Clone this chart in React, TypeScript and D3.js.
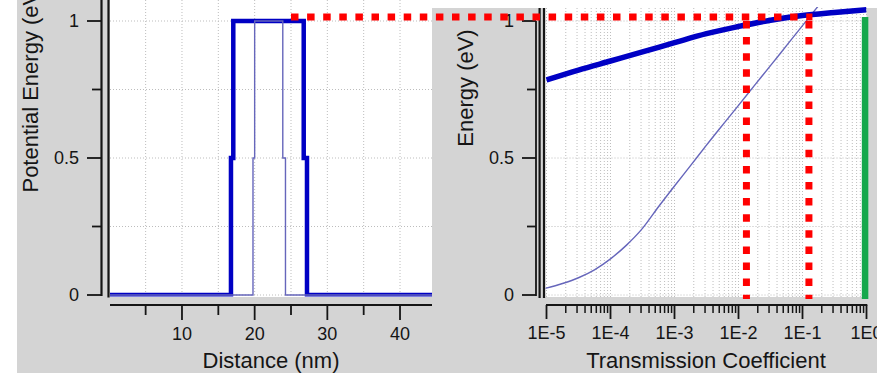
import React from 'react';
import * as d3 from 'd3';

const W = 877;
const H = 373;

// Potential profiles: step vertices (distance in nm, potential in eV)
const wideDistance = [0, 16.74, 17.06, 26.75, 27.2, 44.4];
const widePotential = [0, 0.5, 1, 0.5, 0, 0];
const narrowDistance = [0, 19.77, 20.0, 23.87, 24.24, 44.4];
const narrowPotential = [0, 0.5, 1, 0.5, 0, 0];

// Transmission coefficient vs energy for each barrier
const wideT = [1e-5, 3.16e-5, 1e-4, 3.16e-4, 1e-3, 3.16e-3, 1e-2, 3.16e-2, 1e-1, 3.16e-1, 1];
const wideE = [0.785, 0.821, 0.854, 0.887, 0.921, 0.954, 0.98, 1.003, 1.02, 1.031, 1.041];
const narrowT = [9.5e-6, 1.78e-5, 3.16e-5, 5.62e-5, 1e-4, 1.78e-4, 3.16e-4, 5.62e-4, 1e-3, 1.78e-3, 3.16e-3, 5.62e-3, 1e-2, 1.78e-2, 3.16e-2, 5.62e-2, 1e-1, 1.78e-1];
const narrowE = [0.024, 0.042, 0.063, 0.092, 0.132, 0.182, 0.243, 0.322, 0.398, 0.472, 0.547, 0.62, 0.692, 0.765, 0.837, 0.91, 0.983, 1.056];

const refEnergy = 1.015;
const refStartDistance = 25;
const markerT = [0.0133, 0.126];
const markerTopE = 1.0;
const markerBottomE = -0.015;
// Classical transmission above the barrier
const classicalT = 0.95;

// Axis ticks
const distanceMajor = [10, 20, 30, 40];
const distanceMinor = [5, 15, 25, 35];
const energyMajor = [0, 0.5, 1];
const energyMinor = [0.25, 0.75];
const energyGrid = [0, 0.25, 0.5, 0.75, 1];
const decades = [1e-5, 1e-4, 1e-3, 1e-2, 1e-1, 1];

const FONT = "'Liberation Sans', Arial, sans-serif";
const INK = '#151515';
const BG = '#d4d4d4';
const GRID = '#bdbdbd';
const THICK = '#0000c4';
const THIN = '#6666bb';
const RED = '#ff0000';
const GREEN = '#16a84c';

export default function App() {
  const xDist = d3.scaleLinear().domain([0, 44.4]).range([109.3, 432]);
  const yE = d3.scaleLinear().domain([0, 1]).range([295, 21]);
  const xT = d3.scaleLog().domain([1e-5, 1]).range([546.5, 866.5]);

  const logMinor: number[] = [];
  for (let k = -5; k < 0; k++) {
    for (let m = 2; m <= 9; m++) logMinor.push(m * Math.pow(10, k));
  }

  const stepLine = d3
    .line<[number, number]>()
    .x((d) => xDist(d[0]))
    .y((d) => yE(d[1]))
    .curve(d3.curveStepAfter);
  const tLine = d3
    .line<[number, number]>()
    .x((d) => xT(d[0]))
    .y((d) => yE(d[1]))
    .curve(d3.curveMonotoneX);

  const wideProfile = wideDistance.map((d, i) => [d, widePotential[i]] as [number, number]);
  const narrowProfile = narrowDistance.map((d, i) => [d, narrowPotential[i]] as [number, number]);
  const wideCurve = wideT.map((t, i) => [t, wideE[i]] as [number, number]);
  const narrowCurve = narrowT.map((t, i) => [t, narrowE[i]] as [number, number]);

  const L = { x0: 110, x1: 432, y0: 0, y1: 297 };
  const R = { x0: 545.5, x1: 866.5, y0: 7, y1: 297 };
  const axisY = 305;
  const redDash = '7.5 8.6';

  return (
    <svg
      width={W}
      height={H}
      style={{ position: 'absolute', left: 0, top: 0, display: 'block' }}
      fontFamily={FONT}
    >
      <defs>
        <clipPath id="clipL">
          <rect x={L.x0} y={L.y0} width={L.x1 - L.x0} height={296.5 - L.y0} />
        </clipPath>
        <clipPath id="clipR">
          <rect x={R.x0} y={R.y0} width={R.x1 - R.x0} height={R.y1 - R.y0} />
        </clipPath>
      </defs>

      <rect width={W} height={H} fill={BG} />
      <rect x={0} y={0} width={17} height={H} fill="#fff" />
      <rect x={432} y={0} width={W - 432} height={8} fill="#fff" />

      {/* Left panel: potential energy vs distance */}
      <rect x={L.x0} y={0} width={L.x1 - L.x0} height={L.y1} fill="#fff" />
      <g stroke={GRID} strokeWidth={1} strokeDasharray="1 2">
        {[...distanceMinor, ...distanceMajor].map((d) => (
          <line key={'gv' + d} x1={xDist(d)} x2={xDist(d)} y1={0} y2={L.y1} />
        ))}
        {energyGrid.map((e) => (
          <line key={'gh' + e} x1={L.x0} x2={L.x1} y1={yE(e)} y2={yE(e)} />
        ))}
      </g>
      <g clipPath="url(#clipL)" fill="none">
        <path d={stepLine(wideProfile) || ''} stroke={THICK} strokeWidth={4.5} />
        <path d={stepLine(narrowProfile) || ''} stroke={THIN} strokeWidth={1.4} />
      </g>

      {/* Left panel axes */}
      <g stroke={INK} fill="none">
        <line x1={101.5} x2={101.5} y1={0} y2={yE(0) + 0.9} strokeWidth={2.2} />
        <line x1={108.5} x2={108.5} y1={0} y2={297.5} strokeWidth={2.2} />
        {energyMajor.map((e) => (
          <line key={'lt' + e} x1={87} x2={101.5} y1={yE(e)} y2={yE(e)} strokeWidth={1.8} />
        ))}
        {energyMinor.map((e) => (
          <line key={'lm' + e} x1={92} x2={101.5} y1={yE(e)} y2={yE(e)} strokeWidth={1.8} />
        ))}
        <line x1={L.x0} x2={L.x1} y1={axisY} y2={axisY} strokeWidth={2} />
        {distanceMajor.map((d) => (
          <line key={'dt' + d} x1={xDist(d)} x2={xDist(d)} y1={axisY} y2={320} strokeWidth={1.8} />
        ))}
        {distanceMinor.map((d) => (
          <line key={'dm' + d} x1={xDist(d)} x2={xDist(d)} y1={axisY} y2={315} strokeWidth={1.8} />
        ))}
      </g>
      <g fill={INK} fontSize={18}>
        {energyMajor.map((e) => (
          <text key={'ll' + e} x={79} y={yE(e)} dy="0.36em" textAnchor="end">
            {d3.format('~g')(e)}
          </text>
        ))}
        {distanceMajor.map((d) => (
          <text key={'dl' + d} x={xDist(d)} y={340} textAnchor="middle">
            {d}
          </text>
        ))}
      </g>
      <text
        x={(L.x0 + L.x1) / 2}
        y={368}
        textAnchor="middle"
        fontSize={22}
        fill={INK}
      >
        Distance (nm)
      </text>
      <text
        transform="translate(38,88) rotate(-90)"
        textAnchor="middle"
        fontSize={22}
        fill={INK}
      >
        Potential Energy (eV)
      </text>

      {/* Right panel: energy vs transmission coefficient */}
      <rect x={R.x0} y={0} width={R.x1 - R.x0} height={R.y1} fill="#fff" />
      <g stroke={GRID} strokeWidth={1} strokeDasharray="1 2">
        {[...logMinor, ...decades].map((t, i) => (
          <line key={'rv' + i} x1={xT(t)} x2={xT(t)} y1={8} y2={R.y1} />
        ))}
        {energyGrid.map((e) => (
          <line key={'rh' + e} x1={R.x0} x2={R.x1} y1={yE(e)} y2={yE(e)} />
        ))}
      </g>
      <g clipPath="url(#clipR)" fill="none">
        <path d={tLine(narrowCurve) || ''} stroke={THIN} strokeWidth={1.4} />
        <path d={tLine(wideCurve) || ''} stroke={THICK} strokeWidth={5.5} />
      </g>
      <line
        x1={xT(classicalT)}
        x2={xT(classicalT)}
        y1={yE(refEnergy)}
        y2={yE(markerBottomE)}
        stroke={GREEN}
        strokeWidth={6.5}
      />

      {/* Right panel axes */}
      <g stroke={INK} fill="none">
        <line x1={536} x2={536} y1={yE(1)} y2={yE(0) + 0.9} strokeWidth={1.8} />
        <line x1={539.6} x2={539.6} y1={8} y2={298} strokeWidth={2.2} />
        <line x1={544} x2={544} y1={8} y2={298} strokeWidth={2.2} />
        {energyMajor.map((e) => (
          <line key={'rt' + e} x1={522} x2={536} y1={yE(e)} y2={yE(e)} strokeWidth={1.8} />
        ))}
        {energyMinor.map((e) => (
          <line key={'rm' + e} x1={527} x2={536} y1={yE(e)} y2={yE(e)} strokeWidth={1.8} />
        ))}
        <line x1={xT(1e-5) - 0.5} x2={xT(1) + 0.8} y1={axisY} y2={axisY} strokeWidth={2} />
        {decades.map((t) => (
          <line key={'xt' + t} x1={xT(t)} x2={xT(t)} y1={axisY} y2={319} strokeWidth={1.8} />
        ))}
        {logMinor.map((t, i) => (
          <line key={'xm' + i} x1={xT(t)} x2={xT(t)} y1={axisY} y2={313} strokeWidth={1.5} />
        ))}
      </g>
      <g fill={INK} fontSize={18}>
        {energyMajor.map((e) => (
          <text key={'rl' + e} x={514} y={yE(e)} dy="0.36em" textAnchor="end">
            {d3.format('~g')(e)}
          </text>
        ))}
        {decades.map((t) => (
          <text key={'tl' + t} x={xT(t)} y={339} textAnchor="middle">
            {`1E${Math.round(Math.log10(t))}`}
          </text>
        ))}
      </g>
      <text
        x={(R.x0 + R.x1) / 2}
        y={368}
        textAnchor="middle"
        fontSize={22}
        fill={INK}
      >
        Transmission Coefficient
      </text>
      <text
        transform="translate(473,88) rotate(-90)"
        textAnchor="middle"
        fontSize={22}
        fill={INK}
      >
        Energy (eV)
      </text>

      {/* Reference energy and transmission markers */}
      <g stroke={RED} strokeWidth={7} strokeDasharray={redDash} fill="none">
        <line
          x1={xDist(refStartDistance)}
          x2={xT(markerT[1]) + 3.5}
          y1={yE(refEnergy)}
          y2={yE(refEnergy)}
        />
        {markerT.map((t) => (
          <line
            key={'mk' + t}
            x1={xT(t)}
            x2={xT(t)}
            y1={yE(markerTopE)}
            y2={yE(markerBottomE)}
          />
        ))}
      </g>
    </svg>
  );
}
